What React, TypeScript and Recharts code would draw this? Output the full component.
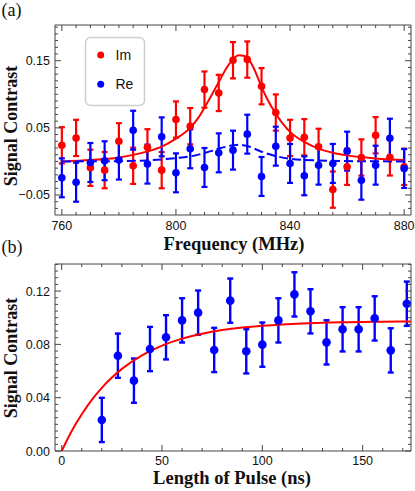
import React from 'react';
import { ComposedChart, Scatter, Line, XAxis, YAxis, ErrorBar, ReferenceArea } from 'recharts';

// ---------- Panel (a) data ----------
const freq = [760, 765, 770, 775, 780, 785, 790, 795, 800, 805, 810, 815, 820, 825, 830, 835, 840, 845, 850, 855, 860, 865, 870, 875, 880];
const imValues = [0.024, 0.035, -0.0095, -0.013, 0.030, -0.0065, 0.021, -0.013, 0.0624, 0.0525, 0.107, 0.102, 0.1507, 0.1517, 0.112, 0.0728, 0.035, 0.036, 0.0217, -0.042, -0.008, 0.0059, 0.039, 0.006, -0.008];
const reValues = [-0.0244, -0.031, -0.0016, 0.001, 0.002, 0.0465, -0.004, 0.0366, -0.017, 0.0188, -0.009, 0.0128, 0.0168, 0.0406, -0.0224, 0.0227, -0.003, -0.0214, -0.0056, -0.003, 0.0153, -0.028, -0.0056, 0.0346, -0.0105];
const imError = 0.027;
const reError = 0.029;

const imFitFreq = [760, 770, 780, 790, 795, 800, 805, 808, 810, 812, 815, 818, 820, 822, 824, 826, 828, 830, 832, 835, 840, 845, 850, 855, 860, 870, 880];
const imFitValues = [0.0, 0.002, 0.006, 0.015, 0.022, 0.034, 0.050, 0.066, 0.080, 0.095, 0.118, 0.141, 0.152, 0.158, 0.157, 0.149, 0.132, 0.111, 0.093, 0.071, 0.044, 0.029, 0.019, 0.013, 0.009, 0.0045, 0.002];
const reFitFreq = [760, 780, 790, 800, 805, 810, 815, 820, 822, 825, 830, 835, 840, 850, 860, 880];
const reFitValues = [0.0, 0.0005, 0.0015, 0.005, 0.0075, 0.0125, 0.019, 0.024, 0.025, 0.023, 0.0145, 0.008, 0.004, 0.0015, 0.0005, 0.0];

const freqTicks = [760, 800, 840, 880];
const freqTickLabels = ['760', '800', '840', '880'];
const contrastTicksA = [-0.05, 0.05, 0.15];
const contrastTickLabelsA = ['\u22120.05', '0.05', '0.15'];

// ---------- Panel (b) data ----------
const pulseLength = [20, 28, 36, 44, 52, 60, 68, 76, 84, 92, 100, 108, 116, 124, 132, 140, 148, 156, 164, 172];
const pulseSignal = [0.0233, 0.0715, 0.0528, 0.0765, 0.0853, 0.098, 0.1038, 0.0758, 0.1128, 0.0748, 0.0798, 0.098, 0.1175, 0.1048, 0.0815, 0.0913, 0.0913, 0.0995, 0.0755, 0.1105];
const pulseError = 0.0166;

const pulseFitLength = [0, 5, 10, 15, 20, 25, 30, 40, 50, 60, 70, 80, 90, 100, 110, 120, 130, 140, 150, 160, 174.1];
const pulseFitValues = [0, 0.015, 0.0276, 0.0384, 0.0474, 0.0551, 0.0616, 0.0718, 0.0791, 0.0843, 0.088, 0.0907, 0.0926, 0.094, 0.095, 0.0957, 0.0962, 0.0966, 0.0968, 0.097, 0.0972];

const lengthTicks = [0, 50, 100, 150];
const lengthTickLabels = ['0', '50', '100', '150'];
const contrastTicksB = [0, 0.04, 0.08, 0.12];
const contrastTickLabelsB = ['0.00', '0.04', '0.08', '0.12'];

// ---------- styling ----------
const RED = '#ff0000';
const BLUE = '#0000ff';
const FRAME = '#444444';
const SANS = '"Liberation Sans", Arial, sans-serif';
const SERIF = '"Liberation Serif", "Times New Roman", serif';

const range = (a: number, b: number, step: number) => {
  const out: number[] = [];
  const n = Math.round((b - a) / step);
  for (let i = 0; i <= n; i++) out.push(+(a + i * step).toFixed(6));
  return out;
};

const imData = freq.map((x, i) => ({ x, y: imValues[i], err: imError }));
const reData = freq.map((x, i) => ({ x, y: reValues[i], err: reError }));
const imFit = imFitFreq.map((x, i) => ({ x, y: imFitValues[i] }));
const reFit = reFitFreq.map((x, i) => ({ x, y: reFitValues[i] }));
const pulseData = pulseLength.map((x, i) => ({ x, y: pulseSignal[i], err: pulseError }));
const pulseFit = pulseFitLength.map((x, i) => ({ x, y: pulseFitValues[i] }));

const findMajor = (arr: number[], v: number) => arr.findIndex((m) => Math.abs(m - v) < 1e-7);

const makeXTick = (major: number[], labels: string[], plotH: number, labelDy: number) => (props: any) => {
  const { x, y, payload } = props;
  const idx = findMajor(major, payload.value);
  const len = idx >= 0 ? 6 : 3;
  return (
    <g>
      <line x1={x} y1={y} x2={x} y2={y - len} stroke={FRAME} strokeWidth={1} />
      <line x1={x} y1={y - plotH} x2={x} y2={y - plotH + len} stroke={FRAME} strokeWidth={1} />
      {idx >= 0 && (
        <text x={x} y={y + labelDy} textAnchor="middle" fontFamily={SANS} fontSize={12.5} fill="#111">
          {labels[idx]}
        </text>
      )}
    </g>
  );
};

const makeYTick = (major: number[], labels: string[], plotW: number) => (props: any) => {
  const { x, y, payload } = props;
  const idx = findMajor(major, payload.value);
  const len = idx >= 0 ? 6 : 3;
  return (
    <g>
      <line x1={x} y1={y} x2={x + len} y2={y} stroke={FRAME} strokeWidth={1} />
      <line x1={x + plotW} y1={y} x2={x + plotW - len} y2={y} stroke={FRAME} strokeWidth={1} />
      {idx >= 0 && (
        <text x={x - 5} y={y} dy="0.36em" textAnchor="end" fontFamily={SANS} fontSize={12.5} fill="#111">
          {labels[idx]}
        </text>
      )}
    </g>
  );
};

const dot = (color: string, r: number) => (props: any) => (
  <circle cx={props.cx} cy={props.cy} r={r} fill={color} />
);

const W = 415;
const PLOT_W = 356;
const X_DOMAIN_A: [number, number] = [757.6, 882.4];
const Y_DOMAIN_A: [number, number] = [-0.0798, 0.2032];
const X_DOMAIN_B: [number, number] = [-3.34, 174.1];
const Y_DOMAIN_B: [number, number] = [0, 0.1403];

export default function App() {
  return (
    <div style={{ position: 'absolute', left: 0, top: 0, width: 415, height: 491, background: '#fff' }}>
      <div style={{ position: 'absolute', left: 0, top: 0 }}>
        <ComposedChart width={W} height={260} margin={{ top: 25, right: 4, bottom: 0, left: 0 }}>
          <XAxis
            xAxisId={0}
            type="number"
            dataKey="x"
            domain={X_DOMAIN_A}
            allowDataOverflow
            ticks={range(760, 880, 5)}
            interval={0}
            height={45}
            axisLine={false}
            tickLine={false}
            tickSize={0}
            tickMargin={0}
            tick={makeXTick(freqTicks, freqTickLabels, 190, 15)}
          />
          <YAxis
            yAxisId={0}
            type="number"
            domain={Y_DOMAIN_A}
            allowDataOverflow
            ticks={range(-0.07, 0.2, 0.01)}
            interval={0}
            width={55}
            axisLine={false}
            tickLine={false}
            tickSize={0}
            tickMargin={0}
            tick={makeYTick(contrastTicksA, contrastTickLabelsA, PLOT_W)}
          />
          <ReferenceArea x1={X_DOMAIN_A[0]} x2={X_DOMAIN_A[1]} y1={Y_DOMAIN_A[0]} y2={Y_DOMAIN_A[1]} fill="none" stroke={FRAME} strokeWidth={1} ifOverflow="visible" />
          <Scatter name="Im" data={imData} dataKey="y" fill={RED} shape={dot(RED, 3.8)} isAnimationActive={false}>
            <ErrorBar dataKey="err" direction="y" width={3} stroke={RED} strokeWidth={2.2} />
          </Scatter>
          <Scatter name="Re" data={reData} dataKey="y" fill={BLUE} shape={dot(BLUE, 3.8)} isAnimationActive={false}>
            <ErrorBar dataKey="err" direction="y" width={3} stroke={BLUE} strokeWidth={2.2} />
          </Scatter>
          <Line data={imFit} dataKey="y" type="monotone" stroke={RED} strokeWidth={2} dot={false} isAnimationActive={false} />
          <Line data={reFit} dataKey="y" type="monotone" stroke={BLUE} strokeWidth={2} strokeDasharray="9 4" dot={false} isAnimationActive={false} />
        </ComposedChart>
      </div>
      <div style={{ position: 'absolute', left: 0, top: 250 }}>
        <ComposedChart width={W} height={241} margin={{ top: 14, right: 4, bottom: 0, left: 0 }}>
          <XAxis
            xAxisId={0}
            type="number"
            dataKey="x"
            domain={X_DOMAIN_B}
            allowDataOverflow
            ticks={range(0, 170, 10)}
            interval={0}
            height={40}
            axisLine={false}
            tickLine={false}
            tickSize={0}
            tickMargin={0}
            tick={makeXTick(lengthTicks, lengthTickLabels, 187, 14)}
          />
          <YAxis
            yAxisId={0}
            type="number"
            domain={Y_DOMAIN_B}
            allowDataOverflow
            ticks={range(0, 0.14, 0.005)}
            interval={0}
            width={55}
            axisLine={false}
            tickLine={false}
            tickSize={0}
            tickMargin={0}
            tick={makeYTick(contrastTicksB, contrastTickLabelsB, PLOT_W)}
          />
          <ReferenceArea x1={X_DOMAIN_B[0]} x2={X_DOMAIN_B[1]} y1={Y_DOMAIN_B[0]} y2={Y_DOMAIN_B[1]} fill="none" stroke={FRAME} strokeWidth={1} ifOverflow="visible" />
          <Scatter name="pulse" data={pulseData} dataKey="y" fill={BLUE} shape={dot(BLUE, 4.3)} isAnimationActive={false}>
            <ErrorBar dataKey="err" direction="y" width={3} stroke={BLUE} strokeWidth={2.4} />
          </Scatter>
          <Line data={pulseFit} dataKey="y" type="monotone" stroke={RED} strokeWidth={2} dot={false} isAnimationActive={false} />
        </ComposedChart>
      </div>
      <svg width={415} height={491} style={{ position: 'absolute', left: 0, top: 0, pointerEvents: 'none' }}>
        <text x={1.5} y={15.5} fontFamily={SERIF} fontSize={18} fill="#111">(a)</text>
        <text x={1.5} y={253} fontFamily={SERIF} fontSize={18} fill="#111">(b)</text>
        <text x={17} y={126} transform="rotate(-90 17 126)" textAnchor="middle" fontFamily={SERIF} fontWeight="bold" fontSize={18} fill="#111">Signal Contrast</text>
        <text x={17} y={358} transform="rotate(-90 17 358)" textAnchor="middle" fontFamily={SERIF} fontWeight="bold" fontSize={18} fill="#111">Signal Contrast</text>
        <text x={234} y={250} textAnchor="middle" fontFamily={SERIF} fontWeight="bold" fontSize={18.5} fill="#111">Frequency (MHz)</text>
        <text x={232} y={484} textAnchor="middle" fontFamily={SERIF} fontWeight="bold" fontSize={18.5} fill="#111">Length of Pulse (ns)</text>
        <rect x={85.5} y={37.5} width={59} height={68} rx={5} ry={5} fill="#fff" stroke="#cfcfcf" strokeWidth={1.5} />
        <circle cx={100.7} cy={55} r={3.5} fill={RED} />
        <text x={115.5} y={55} dy="0.36em" fontFamily={SANS} fontSize={14} fill="#111">Im</text>
        <circle cx={100.7} cy={84.3} r={3.5} fill={BLUE} />
        <text x={115.5} y={84.3} dy="0.36em" fontFamily={SANS} fontSize={14} fill="#111">Re</text>
      </svg>
    </div>
  );
}
